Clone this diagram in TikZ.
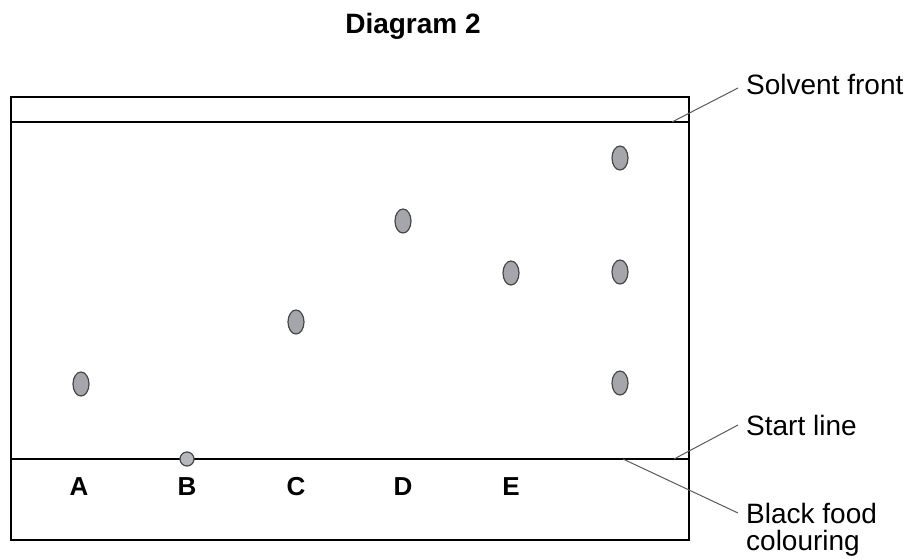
\documentclass[tikz,border=0pt]{standalone}
\usepackage{fontspec}
\setmainfont{Liberation Sans}
\usetikzlibrary{shapes.geometric}
\definecolor{spotfill}{RGB}{165,166,172}
\definecolor{spotedge}{RGB}{70,70,70}
\definecolor{leader}{RGB}{90,90,90}
\begin{document}
\begin{tikzpicture}[x=1pt,y=-1pt,
  paper/.style={draw=black,line width=1.4pt},
  startln/.style={draw=black,line width=2.4pt},
  spot/.style={ellipse,draw=spotedge,fill=spotfill,line width=1.2pt,minimum width=16pt,minimum height=24pt,inner sep=0pt},
  dot/.style={circle,draw=spotedge,fill=spotfill!80!white,line width=1.2pt,minimum size=14pt,inner sep=0pt},
  lane/.style={font=\bfseries\fontsize{26}{30}\selectfont,inner sep=0pt,anchor=base},
  note/.style={font=\fontsize{28}{32}\selectfont,anchor=base west,inner sep=0pt},
  leaderln/.style={draw=leader,line width=1pt}]
\useasboundingbox (0,0) rectangle (911,558);

\node[font=\bfseries\fontsize{28}{32}\selectfont,anchor=base,inner sep=0pt] (title) at (413,33) {Diagram 2};

% chromatography paper
\draw[paper] (11,97) rectangle (689,540);
\coordinate (sfL) at (11,122);
\coordinate (sfR) at (689,122);
\draw[paper] (sfL) -- (sfR);
\coordinate (slL) at (11,459);
\coordinate (slR) at (689,459);
\draw[startln] (slL) -- (slR);

% spots
\node[spot] (a1) at (81,384) {};
\node[dot] (b1) at (187,459) {};
\node[spot] (c1) at (296,322) {};
\node[spot] (d1) at (403,221) {};
\node[spot] (e1) at (511,273) {};
\node[spot] (k1) at (620,158) {};
\node[spot] (k2) at (620,272) {};
\node[spot] (k3) at (620,383) {};

% lane letters
\node[lane] (la) at (79,495) {A};
\node[lane] (lb) at (187,495) {B};
\node[lane] (lc) at (296,495) {C};
\node[lane] (ld) at (403,495) {D};
\node[lane] (le) at (511,495) {E};

% annotations
\node[note] (nsf) at (746,94) {Solvent front};
\node[note] (nsl) at (746,435) {Start line};
\node[note] (nbf) at (746,523) {Black food};
\node[note] (nbf2) at (746,550) {colouring};
\coordinate (psf) at (672,122);
\coordinate (psl) at (674,459);
\coordinate (pbf) at (623,459);
\coordinate (esf) at (738,88);
\coordinate (esl) at (738,425);
\coordinate (ebf) at (738,513);
\draw[leaderln] (psf) -- (esf);
\draw[leaderln] (psl) -- (esl);
\draw[leaderln] (pbf) -- (ebf);
\end{tikzpicture}
\end{document}
